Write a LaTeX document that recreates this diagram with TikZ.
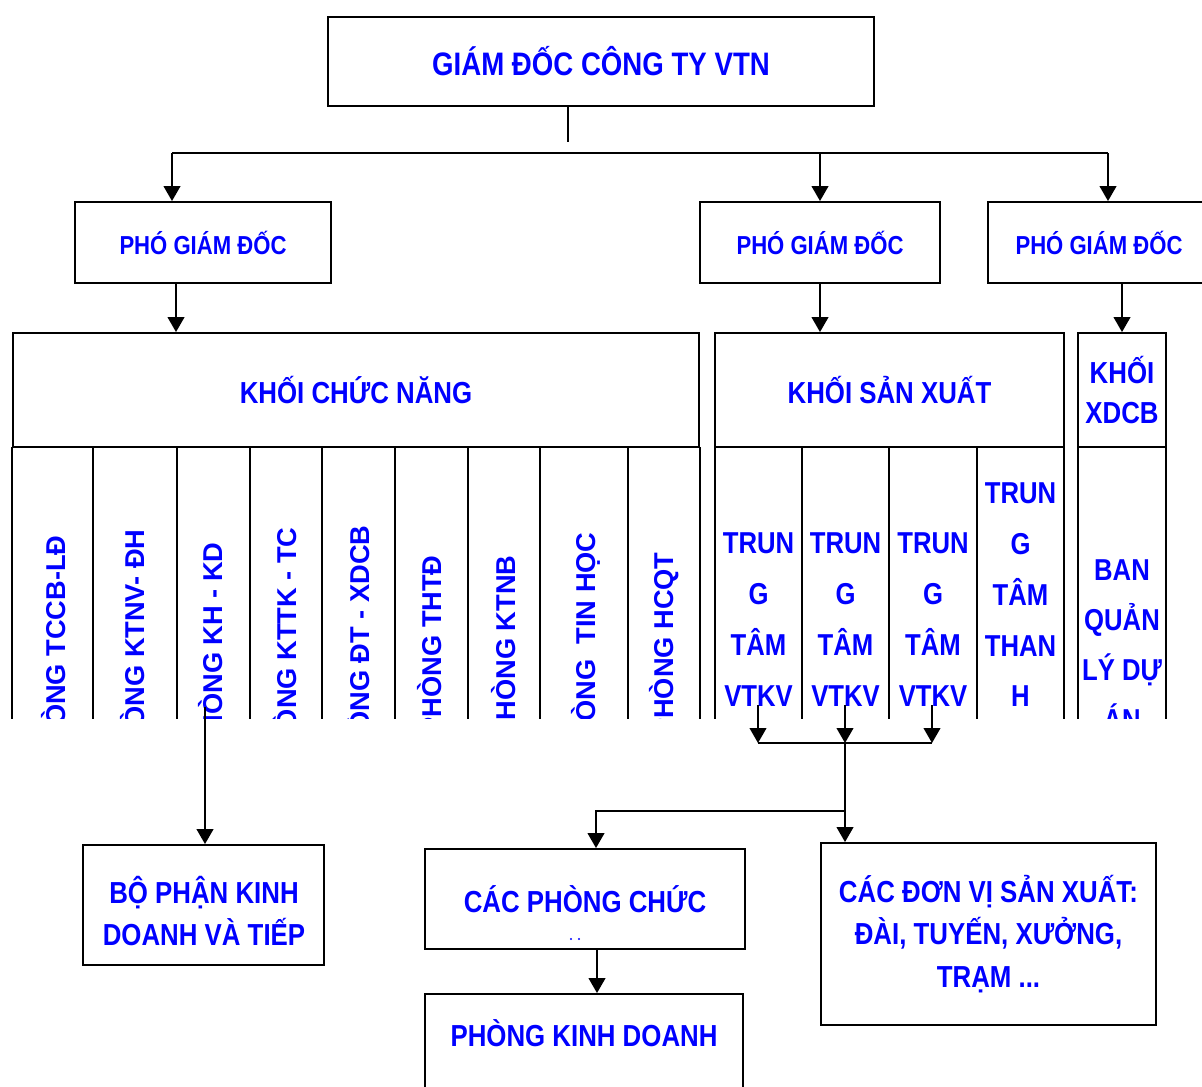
\documentclass[tikz,border=0pt]{standalone}
\usepackage{fontspec}
\setmainfont{Liberation Sans}[FakeStretch=0.85]
\newfontfamily\dungfont{Liberation Sans}
\usetikzlibrary{arrows.meta}

\begin{document}
\begin{tikzpicture}[x=0.02cm, y=-0.02cm, >={Triangle[length=8.5pt,width=9.5pt]},
	khung/.style={draw, line width=1.1pt, inner sep=0pt},
	chu/.style={text=vtnblue, align=center, inner sep=0pt},
	noi/.style={line width=1pt}]
	\definecolor{vtnblue}{RGB}{0, 0, 255}
	\path[use as bounding box] (0,0) rectangle (1202,1086);
	\clip (0,0) rectangle (1202,1086);
	
	% 第一层
	\node[khung, chu, minimum width=10.92cm, minimum height=1.78cm, font=\bfseries\fontsize{18.5}{22}\selectfont]
		(gd) at (601,61.5) {GIÁM ĐỐC CÔNG TY VTN};
	\node[khung, chu, minimum width=5.12cm, minimum height=1.62cm, font=\bfseries\fontsize{14.8}{18}\selectfont]
		(pgd1) at (203,242.5) {PHÓ GIÁM ĐỐC};
	\node[khung, chu, minimum width=4.8cm, minimum height=1.62cm, font=\bfseries\fontsize{14.8}{18}\selectfont]
		(pgd2) at (820,242.5) {PHÓ GIÁM ĐỐC};
	\node[khung, chu, minimum width=4.44cm, minimum height=1.62cm, font=\bfseries\fontsize{14.8}{18}\selectfont]
		(pgd3) at (1099,242.5) {PHÓ GIÁM ĐỐC};
	
	\coordinate (gdend) at (568,142);
	\coordinate (busL) at (172,153);
	\coordinate (busR) at (1108,153);
	\draw[line width=0.6pt] (gdend |- gd.south) -- (gdend);
	\draw[noi] (busL) -- (busR);
	\draw[noi, ->] (busL) -- (busL |- pgd1.north);
	\draw[noi, ->] (pgd2.north |- busL) -- (pgd2.north);
	\draw[noi, ->] (busR) -- (busR |- pgd3.north);
	
	% 各块
	\node[khung, chu, minimum width=13.72cm, minimum height=2.28cm, font=\bfseries\fontsize{17.3}{22}\selectfont]
		(kcn) at (356,390) {KHỐI CHỨC NĂNG};
	\node[khung, chu, minimum width=6.98cm, minimum height=2.28cm, font=\bfseries\fontsize{17.3}{22}\selectfont]
		(ksx) at (889.5,390) {KHỐI SẢN XUẤT};
	\node[khung, chu, minimum width=1.76cm, minimum height=2.28cm, font=\bfseries\fontsize{17.3}{22.8}\selectfont]
		(xdcb) at (1122,390) {KHỐI\\XDCB};
	
	\draw[noi, ->] ([xshift=-0.54cm]pgd1.south) -- ([xshift=-0.54cm]pgd1.south |- kcn.north);
	\draw[noi, ->] (pgd2.south) -- (pgd2.south |- ksx.north);
	\draw[noi, ->] (xdcb.north |- pgd3.south) -- (xdcb.north);
	
	% 下面的各列（被截断）
	\begin{scope}
		\clip (0,447) rectangle (1202,718);
		\foreach \x in {12,93,177,250,322,395,468,540,628,700,715,802,889,977,1064,1078,1166}
			\draw[line width=1.2pt] (\x,447) -- (\x,730);
		\foreach \x/\y/\t [count=\i] in {56/535/PHÒNG TCCB-LĐ, 135/529/PHÒNG KTNV- ĐH,
				213/542/PHÒNG KH - KD, 287/527/PHÒNG KTTK - TC, 360/525/PHÒNG ĐT - XDCB,
				432/555/PHÒNG THTĐ, 506/555/PHÒNG KTNB, 586/532/PHÒNG~ TIN HỌC, 664/552/PHÒNG HCQT}
			\node[chu, rotate=90, anchor=base east, font=\dungfont\bfseries\fontsize{15.5}{18}\selectfont]
				(phong\i) at (\x+9.5,\y) {\t};
		\foreach \x [count=\i] in {758.5,845.5,933}
			\node[chu, anchor=north, font=\bfseries\fontsize{17.2}{29}\selectfont]
				(vtkv\i) at (\x,532) {TRUN\\G\\TÂM\\VTKV};
		\node[chu, anchor=north, font=\bfseries\fontsize{17.2}{29}\selectfont]
			(than) at (1020.5,482) {TRUN\\G\\TÂM\\THAN\\H};
		\node[chu, anchor=north, font=\bfseries\fontsize{17.2}{28.5}\selectfont]
			(banql) at (1122,559) {BAN\\QUẢN\\LÝ DỰ\\ÁN};
	\end{scope}
	
	% 底部方框
	\node[khung, minimum width=4.82cm, minimum height=2.4cm] (bp) at (203.5,905) {};
	\node[chu, font=\bfseries\fontsize{17.3}{23.6}\selectfont] (bp-chu) at (204,911) {BỘ PHẬN KINH\\DOANH VÀ TIẾP};
	\node[khung, chu, minimum width=6.4cm, minimum height=2cm, font=\bfseries\fontsize{17.3}{24}\selectfont]
		(cp) at (585,899) {CÁC PHÒNG CHỨC};
	\fill[vtnblue] (571,939) circle[radius=0.6pt] (579,939) circle[radius=0.6pt];
	\node[khung, minimum width=6.36cm, minimum height=2.4cm] (pkd) at (584,1054) {};
	\node[chu, font=\bfseries\fontsize{17.3}{24}\selectfont] (pkd-chu) at (584,1033) {PHÒNG KINH DOANH};
	\node[khung, chu, minimum width=6.7cm, minimum height=3.64cm, font=\bfseries\fontsize{17.3}{24.2}\selectfont]
		(dv) at (988.5,934) {CÁC ĐƠN VỊ SẢN XUẤT:\\ĐÀI, TUYẾN, XƯỞNG,\\TRẠM ...};
	
	% 连线
	\coordinate (khkd) at (205,707);
	\draw[noi, ->] (khkd) -- (khkd |- bp.north);
	\coordinate (v1) at (758,705);
	\coordinate (v2) at (845,705);
	\coordinate (v3) at (932,705);
	\coordinate (hop) at (845,743);
	\coordinate (tach) at (845,811);
	\draw[noi, ->] (v1) -- (v1 |- hop);
	\draw[noi, ->] (v2) -- (hop);
	\draw[noi, ->] (v3) -- (v3 |- hop);
	\draw[noi] (v1 |- hop) -- (v3 |- hop);
	\draw[noi, ->] (hop) -- (hop |- dv.north);
	\draw[noi, ->] (tach) -| ([xshift=0.22cm]cp.north);
	\draw[noi, ->] ([xshift=0.24cm]cp.south) -- ([xshift=0.24cm]cp.south |- pkd.north);
\end{tikzpicture}
\end{document}
